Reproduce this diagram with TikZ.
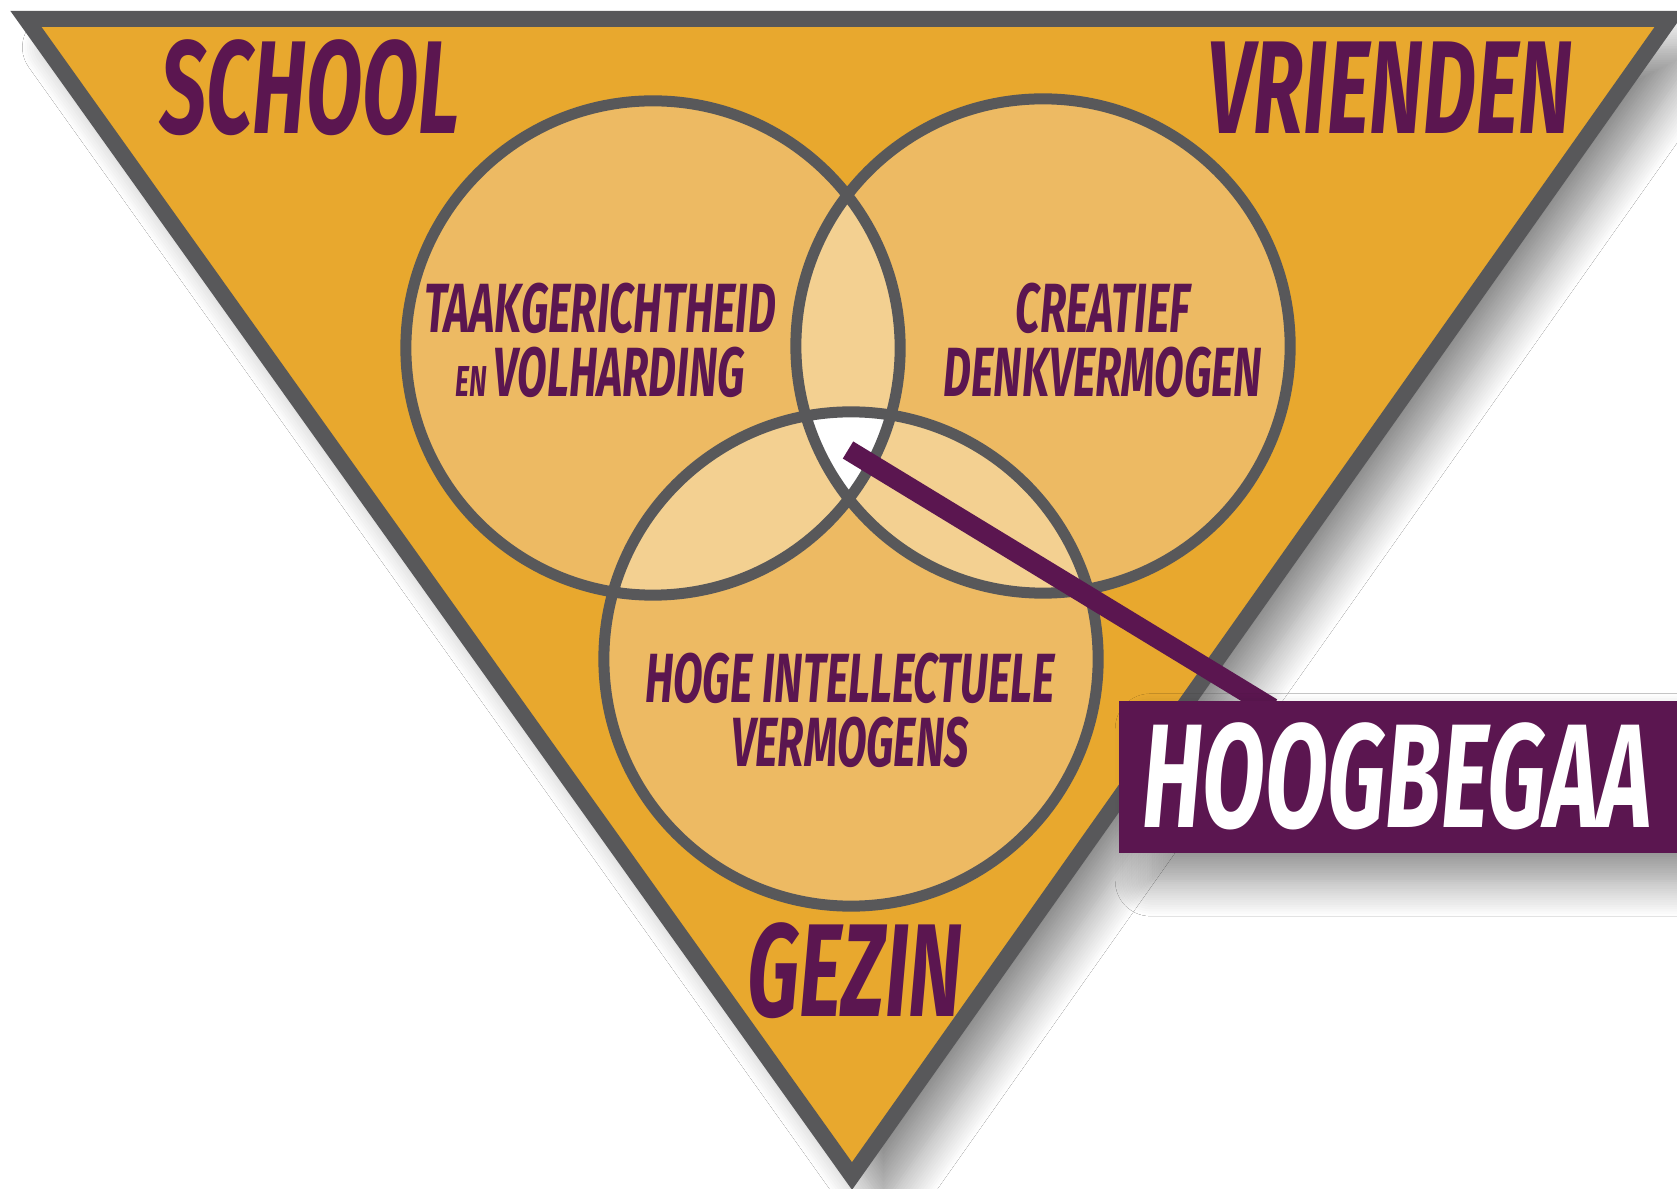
\documentclass[tikz,border=0pt]{standalone}
\usepackage{fontspec}
\usetikzlibrary{shadows.blur}
\newfontfamily\dinfont{Fira Sans}[FakeStretch=0.62]
\definecolor{venorange}{RGB}{232,168,46}
\definecolor{venlight}{RGB}{237,186,99}
\definecolor{venpale}{RGB}{243,208,145}
\definecolor{vengray}{RGB}{88,88,90}
\definecolor{venpurple}{RGB}{91,22,80}

\begin{document}
\begin{tikzpicture}[x=0.01cm,y=-0.01cm,
  area/.style={font=\dinfont\bfseries\itshape\fontsize{37.6}{40}\selectfont,text=venpurple,inner sep=0pt,anchor=base},
  trait/.style={font=\dinfont\bfseries\itshape\fontsize{19.8}{18.2}\selectfont,text=venpurple,inner sep=0pt,align=center},
  ring/.style={draw=vengray,line width=0.11cm},
  lifted/.style={blur shadow={shadow xshift=9pt,shadow yshift=-8pt,shadow blur radius=10pt,shadow blur steps=16,shadow opacity=45}}]
\fill[white] (0,0) rectangle (1677,1189);
\useasboundingbox (0,0) rectangle (1677,1189);
\draw[lifted,fill=venorange,draw=vengray,line width=0.16cm] (26,19) -- (1670,19) -- (852,1176) -- cycle;

\coordinate (cl) at (653,348);
\coordinate (cr) at (1043,346);
\coordinate (cb) at (851,659);
\def\vr{2.47cm}
\fill[venlight] (cl) circle[radius=\vr] (cr) circle[radius=\vr] (cb) circle[radius=\vr];
\begin{scope}
\clip (cl) circle[radius=\vr];
\fill[venpale] (cr) circle[radius=\vr] (cb) circle[radius=\vr];
\end{scope}
\begin{scope}
\clip (cr) circle[radius=\vr];
\fill[venpale] (cb) circle[radius=\vr];
\end{scope}
\begin{scope}
\clip (cl) circle[radius=\vr];
\clip (cr) circle[radius=\vr];
\fill[white] (cb) circle[radius=\vr];
\end{scope}
\draw[ring] (cl) circle[radius=\vr] (cr) circle[radius=\vr] (cb) circle[radius=\vr];

\node[area] (school) at (310,134) {SCHOOL};
\node[area] (vrienden) at (1390,134) {VRIENDEN};
\node[area] (gezin) at (855,1016) {GEZIN};
\node[trait] (taak) at (600,340) {TAAKGERICHTHEID\\{\fontsize{12.3}{14}\selectfont EN}\kern2pt VOLHARDING};
\node[trait] (creatief) at (1103,340) {CREATIEF\\DENKVERMOGEN};
\node[trait] (intellect) at (850,710) {HOGE INTELLECTUELE\\VERMOGENS};

\coordinate (tip) at (848,450);
\coordinate (join) at (1272,708);
\draw[venpurple,line width=0.2cm] (tip) -- (join);
\node[lifted,fill=venpurple,text=white,anchor=north west,minimum height=1.52cm,text width=6cm,inner xsep=0.24cm,inner ysep=0pt,
  font=\dinfont\bfseries\itshape\fontsize{42}{45}\selectfont] (hb) at (1118,700) {HOOGBEGAA};
\end{tikzpicture}
\end{document}
